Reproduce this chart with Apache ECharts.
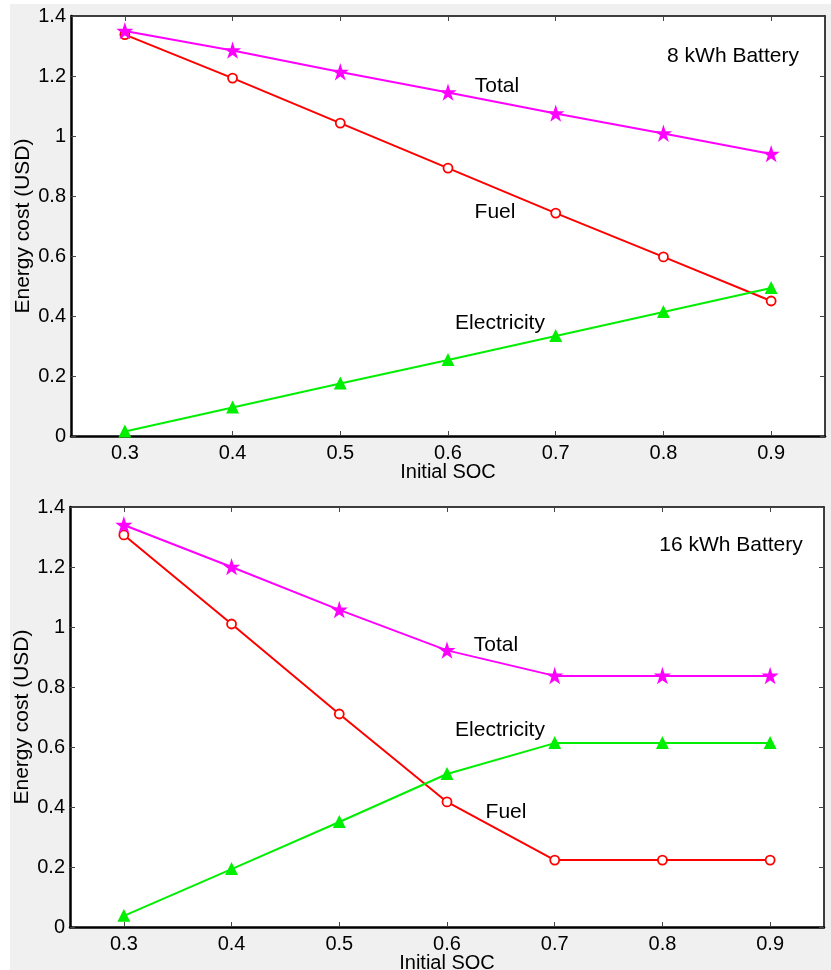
<!DOCTYPE html>
<html>
<head>
<meta charset="utf-8">
<script src="https://cdn.jsdelivr.net/npm/echarts@6/dist/echarts.min.js"></script>
<style>
html,body{margin:0;padding:0;background:#fff;overflow:hidden;}
#bg{position:absolute;left:10px;top:4px;width:821px;height:966px;background:#f0f0f0;}
#chart{position:absolute;left:0;top:0;width:831px;height:970px;}
</style>
</head>
<body>
<div id="bg"></div>
<div id="chart"></div>
<script>
// ---- data ----
const soc = [0.3, 0.4, 0.5, 0.6, 0.7, 0.8, 0.9];
const xTicks = [0.3, 0.4, 0.5, 0.6, 0.7, 0.8, 0.9];
const yTicks = [0, 0.2, 0.4, 0.6, 0.8, 1, 1.2, 1.4];

const total8 = [1.35, 1.285, 1.213, 1.145, 1.075, 1.008, 0.94];
const fuel8  = [1.338, 1.193, 1.043, 0.893, 0.743, 0.597, 0.45];
const elec8  = [0.015, 0.095, 0.175, 0.253, 0.333, 0.413, 0.493];

const total16 = [1.34, 1.2, 1.057, 0.922, 0.837, 0.837, 0.837];
const fuel16  = [1.307, 1.01, 0.71, 0.417, 0.223, 0.223, 0.223];
const elec16  = [0.037, 0.193, 0.35, 0.51, 0.613, 0.613, 0.613];

const panelTitles = ['8 kWh Battery', '16 kWh Battery'];
const seriesNames = ['Total', 'Fuel', 'Electricity'];

// ---- chart ----
const FONT = '"Liberation Sans", Arial, sans-serif';
const chart = echarts.init(document.getElementById('chart'), null, {renderer: 'canvas'});

const grids = [
  {left: 71, top: 16, width: 754, height: 420},
  {left: 70, top: 507, width: 754, height: 420}
];

function xAx(gi, pos, showLabel) {
  return {
    type: 'value', gridIndex: gi, position: pos, min: 0.25, max: 0.95,
    name: showLabel ? 'Initial SOC' : '', nameLocation: 'middle', nameGap: 26, nameMoveOverlap: false,
    nameTextStyle: {fontFamily: FONT, fontSize: 20, color: '#000'},
    splitLine: {show: false},
    axisLine: {show: true, onZero: false, lineStyle: {color: '#000', width: showLabel ? 2.5 : 1.5}},
    axisTick: {show: true, inside: true, length: 5, customValues: xTicks, lineStyle: {color: '#444', width: 1}},
    axisLabel: {show: showLabel, customValues: xTicks, margin: 7, fontFamily: FONT, fontSize: 20, color: '#000'}
  };
}
function yAx(gi, pos, showLabel) {
  return {
    type: 'value', gridIndex: gi, position: pos, min: 0, max: 1.4, interval: 0.2,
    name: showLabel ? 'Energy cost (USD)' : '', nameLocation: 'middle', nameGap: 37, nameMoveOverlap: false,
    nameTextStyle: {fontFamily: FONT, fontSize: 21, color: '#000'},
    splitLine: {show: false},
    axisLine: {show: true, onZero: false, lineStyle: {color: '#000', width: showLabel ? 2.5 : 1.5}},
    axisTick: {show: true, inside: true, length: 5, lineStyle: {color: '#444', width: 1}},
    axisLabel: {show: showLabel, margin: 5, fontFamily: FONT, fontSize: 20, color: '#000'}
  };
}

const STAR = 'path://M0,-10L2.2,-3.2L9.5,-3.1L3.6,1.3L5.9,8.1L0,4L-5.9,8.1L-3.6,1.3L-9.5,-3.1L-2.2,-3.2Z';

function mk(vals) { return soc.map((s, i) => [s, vals[i]]); }
function lineSeries(name, gi, vals, color, symbol, size, fill) {
  return {
    name, type: 'line', xAxisIndex: gi * 2, yAxisIndex: gi * 2,
    data: mk(vals), symbol, symbolSize: size, showSymbol: true,
    lineStyle: {color, width: 2}, itemStyle: {color: fill, borderColor: color, borderWidth: 1.8},
    animation: false, z: name === 'Total' ? 3 : 2
  };
}

const panels = [[total8, fuel8, elec8], [total16, fuel16, elec16]];
const series = [];
panels.forEach((p, gi) => {
  series.push(lineSeries(seriesNames[0], gi, p[0], '#ff00ff', STAR, 12, '#ff00ff'));
  series.push(lineSeries(seriesNames[1], gi, p[1], '#ff0000', 'circle', 9, '#ffffff'));
  series.push(lineSeries(seriesNames[2], gi, p[2], '#00ee00', 'triangle', 10, '#00ee00'));
});

const labels = [
  {text: panelTitles[0], x: 733, y: 56},
  {text: seriesNames[0], x: 497, y: 86},
  {text: seriesNames[1], x: 495, y: 212},
  {text: seriesNames[2], x: 500, y: 323},
  {text: panelTitles[1], x: 731, y: 545},
  {text: seriesNames[0], x: 496, y: 645},
  {text: seriesNames[2], x: 500, y: 730},
  {text: seriesNames[1], x: 506, y: 812}
];

chart.setOption({
  backgroundColor: 'transparent',
  animation: false,
  grid: grids.map(g => Object.assign({show: true, backgroundColor: '#fff', borderColor: '#000', borderWidth: 0, containLabel: false, outerBoundsMode: 'none'}, g)),
  xAxis: [xAx(0, 'bottom', true), xAx(0, 'top', false), xAx(1, 'bottom', true), xAx(1, 'top', false)],
  yAxis: [yAx(0, 'left', true), yAx(0, 'right', false), yAx(1, 'left', true), yAx(1, 'right', false)],
  series,
  graphic: labels.map(l => ({
    type: 'text', x: l.x, y: l.y, z: 10,
    style: {text: l.text, fontFamily: FONT, fontSize: 21, fill: '#000', align: 'center', verticalAlign: 'middle'}
  }))
});
</script>
</body>
</html>
